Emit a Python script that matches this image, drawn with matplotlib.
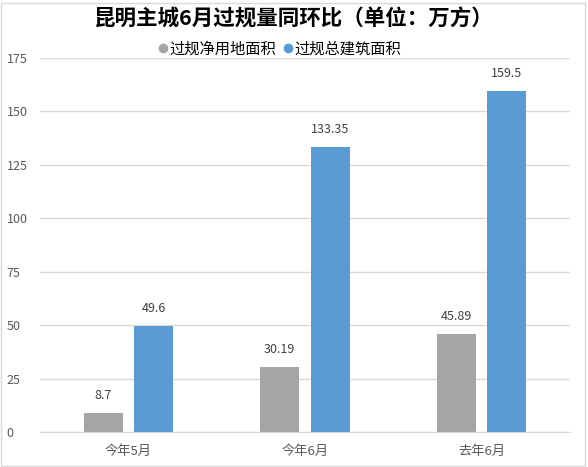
import matplotlib
matplotlib.use("Agg")
import matplotlib.pyplot as plt
from matplotlib.patches import Rectangle
from matplotlib.lines import Line2D
import numpy as np

plt.rcParams['font.family'] = ['Noto Sans CJK SC', 'DejaVu Sans']

categories = ['今年5月', '今年6月', '去年6月']
series_names = ['过规净用地面积', '过规总建筑面积']
land_area = [8.7, 30.19, 45.89]
building_area = [49.6, 133.35, 159.5]
land_labels = ['8.7', '30.19', '45.89']
building_labels = ['49.6', '133.35', '159.5']
yticks = [0, 25, 50, 75, 100, 125, 150, 175]

gray = '#A5A5A5'
blue = '#5B9BD5'
txt = '#595959'

W, H = 588, 467
fig = plt.figure(figsize=(W/100, H/100), dpi=100)
ax = fig.add_axes([40/W, 1-432/H, (570-40)/W, (432-58)/H])

x = np.arange(len(categories))
bw = 0.22
off = 0.143
b1 = ax.bar(x - off, land_area, bw, color=gray, zorder=3)
b2 = ax.bar(x + off, building_area, bw, color=blue, zorder=3)

for rect, lab in zip(b1, land_labels):
    ax.annotate(lab, (rect.get_x()+rect.get_width()/2, rect.get_height()),
                xytext=(0, 8), textcoords='offset points', ha='center', va='bottom',
                fontsize=9, color='#404040')
for rect, lab in zip(b2, building_labels):
    ax.annotate(lab, (rect.get_x()+rect.get_width()/2, rect.get_height()),
                xytext=(0, 8), textcoords='offset points', ha='center', va='bottom',
                fontsize=9, color='#404040')

ax.set_xlim(-0.5, len(categories)-0.5)
ax.set_ylim(0, 175)
ax.set_yticks(yticks)
ax.set_yticklabels([str(t) for t in yticks])
ax.set_xticks(x)
ax.set_xticklabels(categories)
ax.tick_params(axis='y', length=0, pad=24, labelsize=9, labelcolor=txt)
ax.tick_params(axis='x', length=0, pad=9, labelsize=9.5, labelcolor=txt)
for lbl in ax.get_yticklabels():
    lbl.set_horizontalalignment('left')
ax.yaxis.grid(True, color='#D9D9D9', linewidth=1, zorder=0)
for s in ['top', 'right', 'left']:
    ax.spines[s].set_visible(False)
ax.spines['bottom'].set_color('#D9D9D9')
ax.spines['bottom'].set_zorder(4)

fig.text(0.5, 1-19/H, '昆明主城6月过规量同环比（单位：万方）', ha='center', va='center',
         fontsize=15.5, fontweight='bold', color='#000000')

handles = [Line2D([], [], marker='o', linestyle='', color=gray, markersize=6),
           Line2D([], [], marker='o', linestyle='', color=blue, markersize=6)]
leg = fig.legend(handles, series_names, loc='center', bbox_to_anchor=(278/W, 1-49/H),
                 ncol=2, frameon=False, fontsize=11, handletextpad=-0.1,
                 columnspacing=0.3, handlelength=1.0, borderpad=0, borderaxespad=0)
for t in leg.get_texts():
    t.set_color('#000000')

fig.patches.append(Rectangle((1/W, 1/H), (W-4)/W, (H-4)/H, transform=fig.transFigure,
                             fill=False, edgecolor='#D9D9D9', linewidth=1))

fig.savefig('out.png', dpi=100)
